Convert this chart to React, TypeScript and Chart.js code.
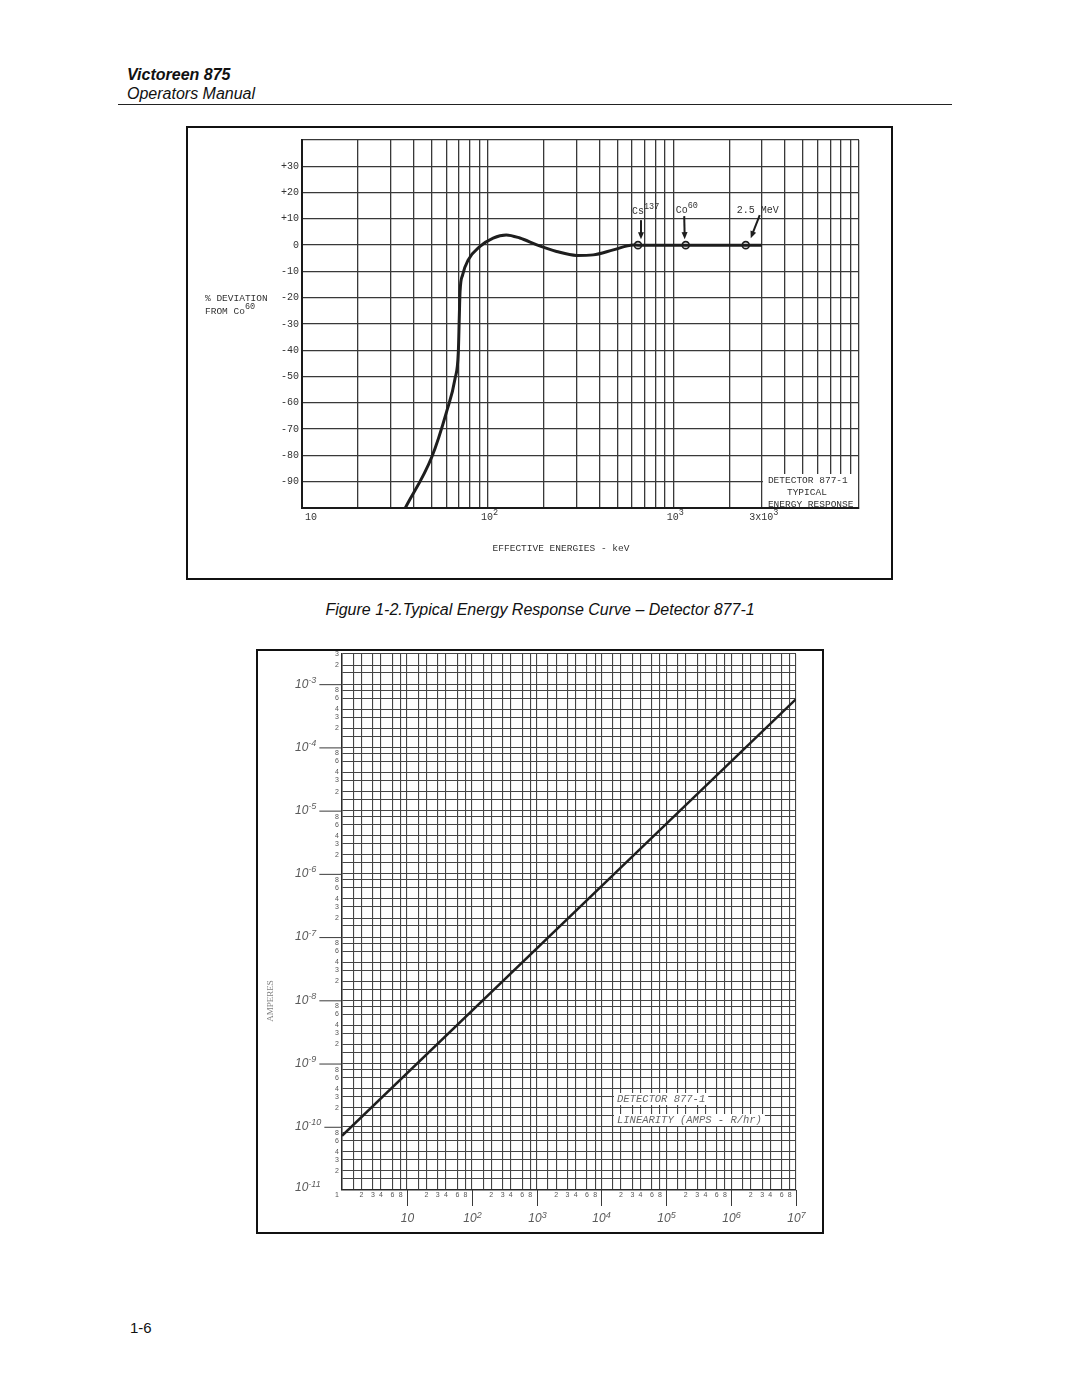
import React, { useEffect, useRef } from 'react';
import { Chart, registerables } from 'chart.js';

Chart.register(...registerables);

// ---------------- Figure 1-2: Typical Energy Response Curve ----------------
const energyKeV = [36, 50, 60, 66.7, 69.5, 70.3, 71, 73.3, 78.6, 90.9, 107, 126, 149, 184, 235, 301, 370, 475, 608, 645, 1166, 2455, 3000];
const deviationPct = [-100, -80.6, -63.5, -50.8, -40.6, -27.9, -17.7, -11.3, -5.6, -0.5, 2.7, 3.9, 2.7, 0.1, -2.4, -3.9, -3.7, -1.8, 0.1, 0, 0, 0, 0];
const markerKeV = [645, 1166, 2455];
const markerDeviation = [0, 0, 0];
const markerBase = ['Cs', 'Co', '2.5 MeV'];
const markerSup = ['137', '60', ''];
const deviationTicks = [30, 20, 10, 0, -10, -20, -30, -40, -50, -60, -70, -80, -90];
const energyTickValues = [10, 100, 1000, 3000];
const energyTickBase = ['10', '10', '10', '3x10'];
const energyTickSup = ['', '2', '3', '3'];
const energyGrid = [10, 20, 30, 40, 50, 60, 70, 80, 90, 100, 200, 300, 400, 500, 600, 700, 800, 900, 1000, 2000, 3000, 4000, 5000, 6000, 7000, 8000, 9000, 10000];

// ---------------- Linearity chart ----------------
const doseRateRHr = [1, 10000000];
const currentAmps = [7.2e-11, 5.8e-4];
const gridMantissas = [1, 1.5, 2, 3, 4, 6, 8];
const labelMantissas = [2, 3, 4, 6, 8];
const doseDecades = [0, 1, 2, 3, 4, 5, 6];
const ampDecades = [-11, -10, -9, -8, -7, -6, -5, -4, -3];
const ampMax = 3e-3;

const MONO = '"Liberation Mono", "DejaVu Sans Mono", monospace';
const SANS = '"Liberation Sans", Arial, sans-serif';

function drawSup(ctx: CanvasRenderingContext2D, x: number, y: number, base: string, sup: string, font: string, supFont: string, rise: number, align: string): number {
  ctx.textAlign = 'left';
  ctx.font = font;
  const bw = ctx.measureText(base).width;
  ctx.font = supFont;
  const sw = sup ? ctx.measureText(sup).width : 0;
  const w = bw + sw;
  const sx = align === 'center' ? x - w / 2 : align === 'right' ? x - w : x;
  ctx.font = font;
  ctx.fillText(base, sx, y);
  if (sup) {
    ctx.font = supFont;
    ctx.fillText(sup, sx + bw, y - rise);
  }
  return sx + w;
}

function drawArrow(ctx: CanvasRenderingContext2D, x1: number, y1: number, x2: number, y2: number) {
  const ang = Math.atan2(y2 - y1, x2 - x1);
  const hl = 7, hw = 3;
  ctx.beginPath();
  ctx.moveTo(x1, y1);
  ctx.lineTo(x2 - Math.cos(ang) * hl * 0.6, y2 - Math.sin(ang) * hl * 0.6);
  ctx.stroke();
  ctx.beginPath();
  ctx.moveTo(x2, y2);
  ctx.lineTo(x2 - hl * Math.cos(ang) + hw * Math.sin(ang), y2 - hl * Math.sin(ang) - hw * Math.cos(ang));
  ctx.lineTo(x2 - hl * Math.cos(ang) - hw * Math.sin(ang), y2 - hl * Math.sin(ang) + hw * Math.cos(ang));
  ctx.closePath();
  ctx.fill();
}

const topLabels = {
  id: 'topLabels',
  afterDraw(chart: any) {
    const { ctx, chartArea: a, scales } = chart;
    const x = scales.x, y = scales.y;
    ctx.save();
    ctx.fillStyle = '#333';
    ctx.textBaseline = 'middle';
    // y tick labels
    ctx.font = `10px ${MONO}`;
    ctx.textAlign = 'right';
    deviationTicks.forEach((v) => {
      const s = v > 0 ? '+' + v : String(v);
      ctx.fillText(s, a.left - 3, y.getPixelForValue(v));
    });
    // x tick labels
    energyTickValues.forEach((v, i) => {
      const px = x.getPixelForValue(v);
      drawSup(ctx, i === 0 ? px + 3 : px + 2, a.bottom + 9, energyTickBase[i], energyTickSup[i], `10px ${MONO}`, `8.5px ${MONO}`, 4, i === 0 ? 'left' : 'center');
    });
    // axis titles
    ctx.font = `9.5px ${MONO}`;
    ctx.textAlign = 'left';
    ctx.fillText('% DEVIATION', 19, 172);
    drawSup(ctx, 19, 185, 'FROM Co', '60', `9.5px ${MONO}`, `8.5px ${MONO}`, 4, 'left');
    ctx.font = `9.5px ${MONO}`;
    ctx.textAlign = 'center';
    ctx.fillText('EFFECTIVE ENERGIES - keV', 375, 422);

    // marker annotations
    ctx.strokeStyle = '#1e1e1e';
    ctx.lineWidth = 2;
    const txt: number[][] = [[-6, -34], [-10, -35], [-9, -35]];
    const arr: number[][] = [[3, -25, 3, -6], [-1.5, -29, -1, -6], [14, -30, 5, -7]];
    markerKeV.forEach((v, i) => {
      const px = x.getPixelForValue(v);
      const py = y.getPixelForValue(markerDeviation[i]);
      ctx.fillStyle = '#333';
      drawSup(ctx, px + txt[i][0], py + txt[i][1], markerBase[i], markerSup[i], `10px ${MONO}`, `8.5px ${MONO}`, 4, 'left');
      ctx.fillStyle = '#1e1e1e';
      drawArrow(ctx, px + arr[i][0], py + arr[i][1], px + arr[i][2], py + arr[i][3]);
    });

    // detector box
    const bx = x.getPixelForValue(3000) + 1;
    ctx.fillStyle = '#ffffff';
    ctx.fillRect(bx, a.bottom - 34, a.right - 1 - bx, 33);
    ctx.fillStyle = '#333';
    ctx.font = `9.5px ${MONO}`;
    ctx.textAlign = 'left';
    ctx.fillText('DETECTOR 877-1', bx + 5, a.bottom - 28);
    ctx.textAlign = 'center';
    ctx.fillText('TYPICAL', bx + 44, a.bottom - 16);
    ctx.textAlign = 'left';
    ctx.fillText('ENERGY RESPONSE', bx + 5, a.bottom - 4);
    ctx.restore();
  },
};

const bottomLabels = {
  id: 'bottomLabels',
  afterDraw(chart: any) {
    const { ctx, chartArea: a, scales } = chart;
    const x = scales.x, y = scales.y;
    ctx.save();
    ctx.textBaseline = 'middle';
    ctx.fillStyle = '#555';
    ctx.strokeStyle = '#3a3a3a';
    ctx.lineWidth = 1;
    // y minor labels
    ctx.font = `7px ${SANS}`;
    ctx.textAlign = 'right';
    ampDecades.forEach((e) => {
      labelMantissas.forEach((m) => {
        const v = m * Math.pow(10, e);
        if (v > ampMax * 1.001) return;
        ctx.fillText(String(m), a.left - 3, y.getPixelForValue(v));
      });
    });
    // x minor labels
    ctx.textAlign = 'center';
    doseDecades.forEach((e) => {
      labelMantissas.forEach((m) => {
        ctx.fillText(String(m), x.getPixelForValue(m * Math.pow(10, e)), a.bottom + 5);
      });
    });
    ctx.fillText('1', a.left - 5, a.bottom + 5);
    // y major labels and ticks
    ctx.fillStyle = '#5a5a5a';
    ampDecades.forEach((e) => {
      const py = y.getPixelForValue(Math.pow(10, e)) - (e === -11 ? 2 : 0);
      const end = drawSup(ctx, a.left - 47, py, '10', String(e), `italic 12px ${SANS}`, `italic 9px ${SANS}`, 4, 'left');
      if (e > -11) {
        ctx.beginPath();
        ctx.moveTo(end + 3, py + 0.5);
        ctx.lineTo(a.left, py + 0.5);
        ctx.stroke();
      }
    });
    // x major ticks and labels
    [1, 2, 3, 4, 5, 6, 7].forEach((e) => {
      const px = Math.round(x.getPixelForValue(Math.pow(10, e))) + 0.5;
      ctx.beginPath();
      ctx.moveTo(px, a.bottom);
      ctx.lineTo(px, a.bottom + 16);
      ctx.stroke();
      drawSup(ctx, px, a.bottom + 29, '10', e === 1 ? '' : String(e), `italic 12px ${SANS}`, `italic 9px ${SANS}`, 4, 'center');
    });
    // AMPERES
    ctx.save();
    ctx.translate(15, 352);
    ctx.rotate(-Math.PI / 2);
    ctx.font = `9px "Liberation Serif", serif`;
    ctx.fillStyle = '#808080';
    ctx.textAlign = 'center';
    ctx.fillText('AMPERES', 0, 0);
    ctx.restore();
    // detector label
    ctx.font = `italic 10.5px ${MONO}`;
    ctx.textAlign = 'left';
    const rows = ['DETECTOR 877-1', 'LINEARITY (AMPS - R/hr)'];
    rows.forEach((r, i) => {
      const tx = a.left + 275;
      const ty = a.top + 445 + i * 21;
      const w = ctx.measureText(r).width;
      ctx.fillStyle = '#ffffff';
      ctx.fillRect(tx - 3, ty - 6, w + 6, 12);
      ctx.fillStyle = '#666';
      ctx.fillText(r, tx, ty);
    });
    ctx.restore();
  },
};

function makeTicks(values: number[]) {
  return (scale: any) => {
    scale.ticks = values.map((v) => ({ value: v }));
  };
}

export default function App() {
  const topRef = useRef<HTMLCanvasElement>(null);
  const botRef = useRef<HTMLCanvasElement>(null);

  useEffect(() => {
    const doseGrid: number[] = [];
    doseDecades.forEach((e) => gridMantissas.forEach((m) => doseGrid.push(m * Math.pow(10, e))));
    doseGrid.push(Math.pow(10, 7));
    const ampGrid: number[] = [];
    ampDecades.forEach((e) => gridMantissas.forEach((m) => {
      const v = m * Math.pow(10, e);
      if (v <= ampMax * 1.001) ampGrid.push(v);
    }));

    const top = new Chart(topRef.current as HTMLCanvasElement, {
      type: 'line',
      data: {
        datasets: [
          {
            data: energyKeV.map((v, i) => ({ x: v, y: deviationPct[i] })),
            borderColor: '#1e1e1e',
            borderWidth: 3,
            pointRadius: 0,
            cubicInterpolationMode: 'monotone',
          },
          {
            data: markerKeV.map((v, i) => ({ x: v, y: markerDeviation[i] })),
            showLine: false,
            pointRadius: 3.5,
            pointBorderWidth: 1.6,
            pointBackgroundColor: '#ffffff',
            pointBorderColor: '#1e1e1e',
          },
        ],
      } as any,
      options: {
        responsive: false,
        animation: false,
        devicePixelRatio: 1,
        events: [],
        layout: { padding: { left: 116, top: 14, right: 34, bottom: 72 } },
        plugins: { legend: { display: false }, tooltip: { enabled: false } },
        scales: {
          x: {
            type: 'logarithmic',
            min: 10,
            max: 10000,
            afterBuildTicks: makeTicks(energyGrid),
            ticks: { display: false },
            grid: { color: '#383838', lineWidth: 1.3, drawTicks: false },
            border: { display: true, color: '#1a1a1a', width: 2 },
          },
          y: {
            type: 'linear',
            min: -100,
            max: 40,
            ticks: { display: false, stepSize: 10 },
            grid: { color: '#383838', lineWidth: 1.3, drawTicks: false },
            border: { display: true, color: '#1a1a1a', width: 2 },
          },
        },
      } as any,
      plugins: [topLabels],
    });

    const bot = new Chart(botRef.current as HTMLCanvasElement, {
      type: 'line',
      data: {
        datasets: [
          {
            data: doseRateRHr.map((v, i) => ({ x: v, y: currentAmps[i] })),
            borderColor: '#1e1e1e',
            borderWidth: 2.5,
            pointRadius: 0,
          },
        ],
      } as any,
      options: {
        responsive: false,
        animation: false,
        devicePixelRatio: 1,
        events: [],
        layout: { padding: { left: 86, top: 5, right: 28, bottom: 44 } },
        plugins: { legend: { display: false }, tooltip: { enabled: false } },
        scales: {
          x: {
            type: 'logarithmic',
            min: 1,
            max: 10000000,
            afterBuildTicks: makeTicks(doseGrid),
            ticks: { display: false },
            grid: { color: '#444', lineWidth: 1.1, drawTicks: false },
            border: { display: true, color: '#2a2a2a', width: 1.5 },
          },
          y: {
            type: 'logarithmic',
            min: 1e-11,
            max: ampMax,
            afterBuildTicks: makeTicks(ampGrid),
            ticks: { display: false },
            grid: { color: '#444', lineWidth: 1.1, drawTicks: false },
            border: { display: true, color: '#2a2a2a', width: 1.5 },
          },
        },
      } as any,
      plugins: [bottomLabels],
    });

    return () => {
      top.destroy();
      bot.destroy();
    };
  }, []);

  const abs = (l: number, t: number, extra: any = {}) => ({ position: 'absolute' as const, left: l, top: t, whiteSpace: 'nowrap' as const, ...extra });

  return (
    <div style={{ position: 'absolute', left: 0, top: 0, width: 1080, height: 1397, background: '#fff', overflow: 'hidden', fontFamily: SANS, color: '#111' }}>
      <div style={abs(127, 67, { fontSize: 16, lineHeight: '16px', fontWeight: 'bold', fontStyle: 'italic' })}>Victoreen 875</div>
      <div style={abs(127, 86, { fontSize: 16, lineHeight: '16px', fontStyle: 'italic' })}>Operators Manual</div>
      <div style={abs(118, 104, { width: 834, height: 0, borderTop: '1px solid #222' })} />

      <div style={abs(186, 126, { width: 707, height: 454, border: '2px solid #111', boxSizing: 'border-box' })} />
      <canvas ref={topRef} width={707} height={454} style={abs(186, 126, { width: 707, height: 454 })} />

      <div style={{ position: 'absolute', left: 0, width: 1080, top: 602, textAlign: 'center', fontSize: 16, lineHeight: '16px', fontStyle: 'italic' }}>
        Figure 1-2.Typical Energy Response Curve – Detector 877-1
      </div>

      <div style={abs(256, 649, { width: 568, height: 585, border: '2px solid #111', boxSizing: 'border-box' })} />
      <canvas ref={botRef} width={568} height={585} style={abs(256, 649, { width: 568, height: 585 })} />

      <div style={abs(130, 1320, { fontSize: 15, lineHeight: '16px' })}>1-6</div>
    </div>
  );
}
